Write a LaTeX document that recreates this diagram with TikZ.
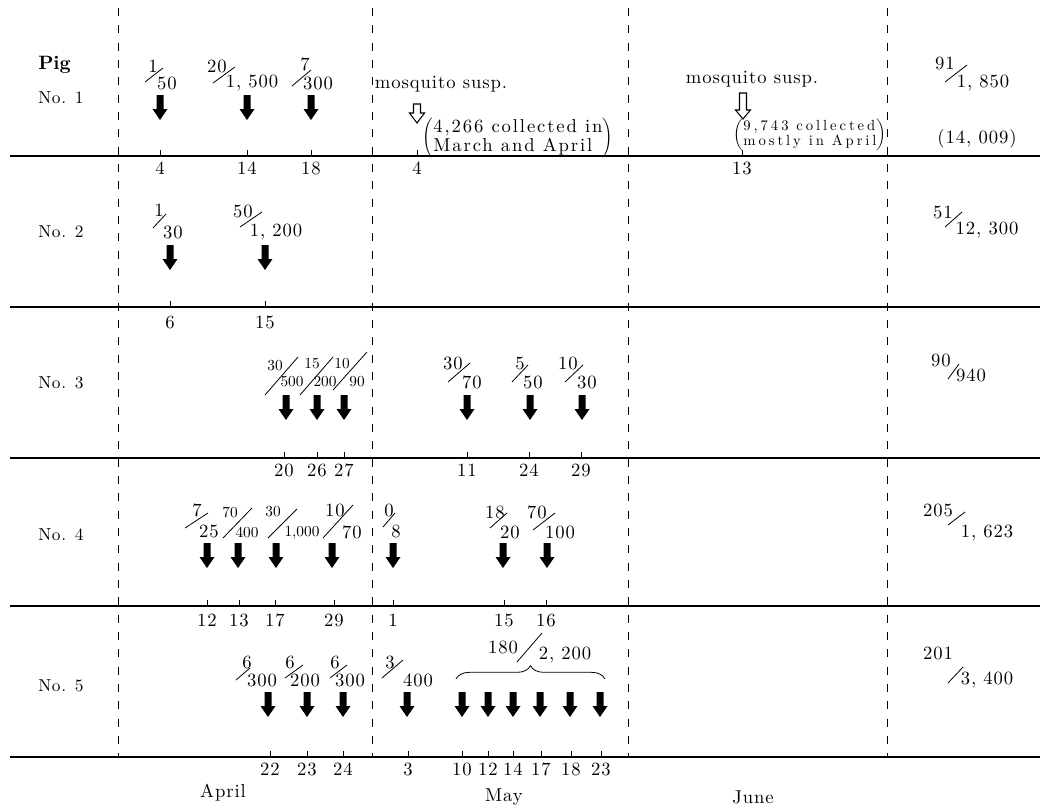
\documentclass[tikz,border=0pt]{standalone}
\usepackage{fontspec}
\setmainfont{lmroman10-regular.otf}[BoldFont=lmroman10-bold.otf]
\usetikzlibrary{decorations.pathreplacing}
\newcommand\mf{\fontsize{14}{14.5}\selectfont\addfontfeatures{LetterSpace=5}}
\newcommand\lf{\fontsize{13}{14}\selectfont\addfontfeatures{LetterSpace=4}}
\newcommand\ppf{\fontsize{14}{14.5}\selectfont\addfontfeatures{LetterSpace=10}}
\newcommand\smf{\fontsize{11.5}{12}\selectfont}
\newcommand\pf{\fontsize{11}{10}\selectfont\addfontfeatures{LetterSpace=20}}
\newcommand\frc[8][t]{%
  \node[#1] (#2n) at (#3) {#4};
  \node[#1] (#2d) at (#5) {#6};
  \draw[sl] (#7) -- (#8);}
\tikzset{
  t/.style={inner sep=0pt, font=\mf},
  ts/.style={inner sep=0pt, font=\smf},
  lbl/.style={inner sep=0pt, font=\lf, anchor=west},
  hl/.style={line width=1.1pt},
  vd/.style={line width=0.75pt, dash pattern=on 6pt off 7pt},
  sl/.style={line width=0.6pt},
  tk/.style={line width=0.6pt},
  pics/dn/.style={code={\fill (-3.5,0) -- (3.5,0) -- (3.5,14) -- (7.5,14) -- (0,25) -- (-7.5,14) -- (-3.5,14) -- cycle;}},
  pics/hol/.style n args={2}{code={\draw[line width=0.8pt, fill=white] (-3.5,0) -- (3.5,0) -- (3.5,#1) -- (7.5,#1) -- (0,#1+#2) -- (-7.5,#1) -- (-3.5,#1) -- cycle;}},
}
\begin{document}
\begin{tikzpicture}[x=0.75pt,y=-0.75pt]
\useasboundingbox (0,0) rectangle (1045,807);
% grid
\foreach \y in {156,307,458,606,757} \draw[hl] (10,\y) -- (1040,\y);
\foreach \x in {118,372,628,887} \draw[vd] (\x,8) -- (\x,757);
% row labels
\node[lbl, font=\fontsize{14.5}{15}\selectfont\bfseries] (pig) at (38,65) {Pig};
\node[lbl] (no1) at (38,98) {No. 1};
\node[lbl] (no2) at (38,232) {No. 2};
\node[lbl] (no3) at (38,383) {No. 3};
\node[lbl] (no4) at (38,535) {No. 4};
\node[lbl] (no5) at (38,686) {No. 5};
% ---------- row 1
\frc{A1}{153,66}{1}{167,83}{50}{145,82}{163,68}
\frc{A2}{217,66}{20}{252,83}{1, 500}{213,83}{235,67}
\frc{A3}{305,64}{7}{318,83}{300}{292,86}{311,70}
\frc{A4}{945,63}{91}{983,83}{1, 850}{945,82}{967,65}
\foreach \x in {160,247,311} \pic at (\x,95) {dn};
\node[t] (m1) at (441,84) {mosquito susp.};
\node[t] (m2) at (752,79) {mosquito susp.};
\pic at (417,104) {hol={9}{10}};
\pic at (743,93) {hol={17}{9}};
\node[t, font=\ppf] (p1) at (518,138) {$\left(\vcenter{\hbox{\begin{tabular}{@{}l@{}}4,266 collected in\\March and April\end{tabular}}}\right)$};
\node[t, font=\pf] (p2) at (810,135) {$\left(\vcenter{\hbox{\begin{tabular}{@{}l@{}}9,743 collected\\mostly in April\end{tabular}}}\right)$};
\node[t] (tot1) at (977,139) {(14, 009)};
\foreach \x/\d [count=\i] in {160/4,247/14,311/18,417/4,742/13} {
  \draw[tk] (\x,156) -- (\x,150);
  \node[t] (r1d\i) at (\x,168) {\d};
}
% ---------- row 2
\frc{B1}{159,210}{1}{173,232}{30}{153,228}{166,214}
\frc{B2}{243,211}{50}{276,232}{1, 200}{240,227}{262,212}
\frc{B3}{943,212}{51}{987,230}{12, 300}{945,227}{962,212}
\foreach \x in {170,265} \pic at (\x,245) {dn};
\foreach \x/\d [count=\i] in {170/6,265/15} {
  \draw[tk] (\x,307) -- (\x,301);
  \node[t] (r2d\i) at (\x,322) {\d};
}
% ---------- row 3
\frc[ts]{C1}{275,366}{30}{292,382}{500}{265,395}{298,357}
\frc[ts]{C2}{312,364}{15}{325,382}{200}{300,395}{333,357}
\frc[ts]{C3}{342,364}{10}{357,382}{90}{333,390}{367,352}
\frc{C4}{453,363}{30}{472,382}{70}{448,382}{470,363}
\frc{C5}{520,363}{5}{533,382}{50}{512,382}{528,365}
\frc{C6}{568,363}{10}{587,382}{30}{565,382}{583,365}
\frc{C7}{941,360}{90}{971,375}{940}{948,379}{959,364}
\foreach \x in {286,317,344,467,530,582} \pic at (\x,395) {dn};
\foreach \x/\d [count=\i] in {284/20,317/26,344/27,467/11,529/24,581/29} {
  \draw[tk] (\x,458) -- (\x,452);
  \node[t] (r3d\i) at (\x,470) {\d};
}
% ---------- row 4
\frc{D1}{197,510}{7}{209,531}{25}{185,528}{208,513}
\frc[ts]{D2}{230,512}{70}{247,532}{400}{223,538}{252,508}
\frc[ts]{D3}{273,512}{30}{302,533}{1,000}{268,538}{297,509}
\frc{D4}{335,510}{10}{352,532}{70}{323,538}{353,505}
\frc{D5}{389,510}{0}{396,531}{8}{383,527}{395,513}
\frc{D6}{495,512}{18}{510,532}{20}{490,528}{507,513}
\frc{D7}{537,512}{70}{560,532}{100}{533,530}{555,513}
\frc{D8}{938,510}{205}{987,533}{1, 623}{948,525}{965,512}
\foreach \x in {207,238,276,332,393,503,547} \pic at (\x,543) {dn};
\foreach \x/\d [count=\i] in {207/12,239/13,275/17,334/29,393/1,504/15,546/16} {
  \draw[tk] (\x,606) -- (\x,600);
  \node[t] (r4d\i) at (\x,620) {\d};
}
% ---------- row 5
\frc{E1}{247,662}{6}{262,680}{300}{236,680}{250,668}
\frc{E2}{290,662}{6}{305,680}{200}{285,678}{303,665}
\frc{E3}{335,662}{6}{350,680}{300}{330,678}{347,665}
\frc{E4}{390,662}{3}{418,680}{400}{382,678}{403,660}
\frc{E5}{503,647}{180}{565,655}{2, 200}{517,662}{542,633}
\frc{E6}{938,653}{201}{987,680}{3, 400}{948,683}{963,667}
\draw[sl, decorate, decoration={brace, amplitude=10pt}] (456,679) -- (605,679);
\foreach \x in {268,307,343,407,462,488,513,540,570,600} \pic at (\x,692) {dn};
\foreach \x/\d [count=\i] in {270/22,307/23,343/24,408/3,462/10,488/12,513/14,541/17,571/18,601/23} {
  \draw[tk] (\x,757) -- (\x,751);
  \node[t] (r5d\i) at (\x,769) {\d};
}
% months
\node[t] (apr) at (223,793) {April};
\node[t] (may) at (504,797) {May};
\node[t] (jun) at (753,797) {June};
\end{tikzpicture}
\end{document}
